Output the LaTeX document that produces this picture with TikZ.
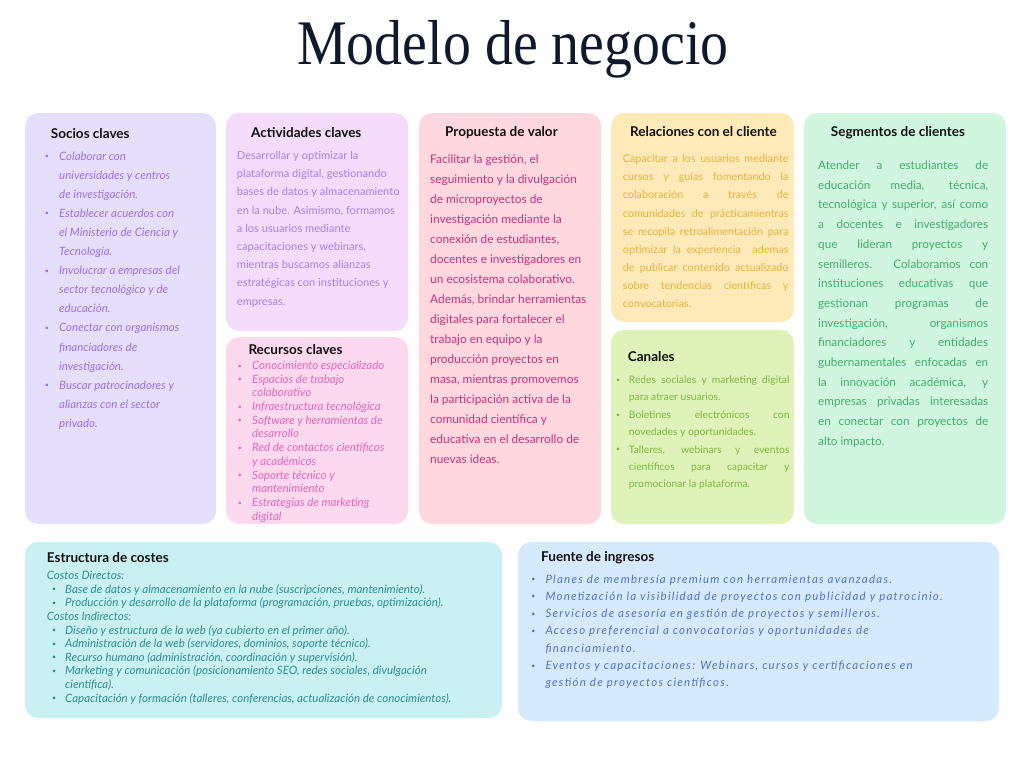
\documentclass[tikz,border=0pt]{standalone}
\usepackage{fontspec}
\usepackage{graphicx}
\setsansfont{Lato}
\newfontfamily\fuefont[LetterSpace=11]{Lato}
\newfontfamily\titlefont{Liberation Serif}
\definecolor{titleC}{HTML}{0E1A2B}
\definecolor{headC}{HTML}{111111}
\definecolor{socBg}{HTML}{E6DFFC}\definecolor{socT}{HTML}{9B70E6}
\definecolor{actBg}{HTML}{F3DCFC}\definecolor{actT}{HTML}{A582E8}
\definecolor{recBg}{HTML}{FDD9F0}\definecolor{recT}{HTML}{E066B8}
\definecolor{proBg}{HTML}{FED8DE}\definecolor{proT}{HTML}{C3327E}
\definecolor{relBg}{HTML}{FEEAB9}\definecolor{relT}{HTML}{E2B23B}
\definecolor{canBg}{HTML}{DEF2B9}\definecolor{canT}{HTML}{7CBB3A}
\definecolor{segBg}{HTML}{D1F6DF}\definecolor{segT}{HTML}{3FAE6B}
\definecolor{estBg}{HTML}{C9F0F3}\definecolor{estT}{HTML}{2F8F8E}
\definecolor{fueBg}{HTML}{D6EAFD}\definecolor{fueT}{HTML}{5470C8}
\newcommand\fr{\rule{0pt}{1em}}
\newcommand\bu[1]{\makebox[0pt][r]{\raisebox{0.12em}{\fontsize{7}{7}\selectfont •}\hspace{#1}}}
\newcommand\jl[2]{\makebox[#1][s]{#2}}
\tikzset{
  card/.style={rounded corners=13pt},
  hd/.style={anchor=base west, inner sep=0pt, text=headC,
    font=\sffamily\bfseries\fontsize{13.5}{15}\selectfont},
  blk/.style={anchor=north west, inner sep=0pt, align=left},
}
\begin{document}
\begin{tikzpicture}[x=1pt,y=-1pt]
\useasboundingbox (0,0) rectangle (1024,768);
\fill[white] (0,0) rectangle (1024,768);
% cards
\fill[card, socBg] (25,113) rectangle (216,524);
\fill[card, actBg] (226,113) rectangle (408,331);
\fill[card, recBg] (226,337) rectangle (408,524);
\fill[card, proBg] (419,113) rectangle (601,524);
\fill[card, relBg] (611,113) rectangle (794,322);
\fill[card, canBg] (611,330) rectangle (794,524);
\fill[card, segBg] (804,113) rectangle (1006,524);
\fill[card, estBg] (25,542) rectangle (502,718);
\fill[card, fueBg] (518,542) rectangle (999,721);
% title
\node[anchor=base, inner sep=0pt, text=titleC] (title) at (513,64)
  {\titlefont\fontsize{63.5}{64}\selectfont\scalebox{0.88}[1]{Modelo de negocio}};
% headings
\node[hd] (hsoc) at (50.7,138.5) {Socios claves};
\node[hd] (hact) at (251,137.8) {Actividades claves};
\node[hd] (hrec) at (248.3,354.8) {Recursos claves};
\node[hd] (hpro) at (445,136.8) {Propuesta de valor};
\node[hd] (hrel) at (630,136.8) {Relaciones con el cliente};
\node[hd] (hcan) at (627.7,361.5) {Canales};
\node[hd] (hseg) at (830.7,136.8) {Segmentos de clientes};
\node[hd] (hest) at (46.7,562.5) {Estructura de costes};
\node[hd] (hfue) at (541,561.5) {Fuente de ingresos};
% Socios
\node[blk, text=socT, font=\sffamily\itshape\fontsize{11.5}{19.1}\selectfont] (tsoc) at (59,148.3) {%
\fr\bu{10.2pt}Colaborar con\\
universidades y centros\\
de investigación.\\
\bu{10.2pt}Establecer acuerdos con\\
el Ministerio de Ciencia y\\
Tecnología.\\
\bu{10.2pt}Involucrar a empresas del\\
sector tecnológico y de\\
educación.\\
\bu{10.2pt}Conectar con organismos\\
financiadores de\\
investigación.\\
\bu{10.2pt}Buscar patrocinadores y\\
alianzas con el sector\\
privado.};
% Actividades
\node[blk, text=actT, font=\sffamily\fontsize{11.1}{18.2}\selectfont] (tact) at (236.7,148.2) {%
\fr Desarrollar y optimizar la\\
plataforma digital, gestionando\\
bases de datos y almacenamiento\\
en la nube. Asimismo, formamos\\
a los usuarios mediante\\
capacitaciones y webinars,\\
mientras buscamos alianzas\\
estratégicas con instituciones y\\
empresas.};
% Recursos
\node[blk, text=recT, font=\sffamily\itshape\fontsize{11.5}{13.7}\selectfont] (trec) at (252,357.7) {%
\fr\bu{10.2pt}Conocimiento especializado\\
\bu{10.2pt}Espacios de trabajo\\
colaborativo\\
\bu{10.2pt}Infraestructura tecnológica\\
\bu{10.2pt}Software y herramientas de\\
desarrollo\\
\bu{10.2pt}Red de contactos científicos\\
y académicos\\
\bu{10.2pt}Soporte técnico y\\
mantenimiento\\
\bu{10.2pt}Estrategias de marketing\\
digital};
% Propuesta
\node[blk, text=proT, font=\sffamily\fontsize{11.9}{20}\selectfont] (tpro) at (430,151.8) {%
\fr Facilitar la gestión, el\\
seguimiento y la divulgación\\
de microproyectos de\\
investigación mediante la\\
conexión de estudiantes,\\
docentes e investigadores en\\
un ecosistema colaborativo.\\
Además, brindar herramientas\\
digitales para fortalecer el\\
trabajo en equipo y la\\
producción proyectos en\\
masa, mientras promovemos\\
la participación activa de la\\
comunidad científica y\\
educativa en el desarrollo de\\
nuevas ideas.};
% Relaciones
\node[blk, text=relT, font=\sffamily\fontsize{10.8}{18.1}\selectfont] (trel) at (622.7,151.7) {%
\fr\jl{165.6pt}{Capacitar a los usuarios mediante}\\
\jl{165.6pt}{cursos y guías fomentando la}\\
\jl{165.6pt}{colaboración a través de}\\
\jl{165.6pt}{comunidades de prácticamientras}\\
\jl{165.6pt}{se recopila retroalimentación para}\\
\jl{165.6pt}{optimizar la experiencia \ ademas}\\
\jl{165.6pt}{de publicar contenido actualizado}\\
\jl{165.6pt}{sobre tendencias científicas y}\\
convocatorias.};
% Canales
\node[blk, text=canT, font=\sffamily\fontsize{10.3}{17.4}\selectfont] (tcan) at (628.7,373) {%
\fr\bu{8.8pt}\jl{160.6pt}{Redes sociales y marketing digital}\\
para atraer usuarios.\\
\bu{8.8pt}\jl{160.6pt}{Boletines electrónicos con}\\
novedades y oportunidades.\\
\bu{8.8pt}\jl{160.6pt}{Talleres, webinars y eventos}\\
\jl{160.6pt}{científicos para capacitar y}\\
promocionar la plataforma.};
% Segmentos
\node[blk, text=segT, font=\sffamily\fontsize{11.7}{19.7}\selectfont] (tseg) at (818,157.6) {%
\fr\jl{170pt}{Atender a estudiantes de}\\
\jl{170pt}{educación media, técnica,}\\
\jl{170pt}{tecnológica y superior, así como}\\
\jl{170pt}{a docentes e investigadores}\\
\jl{170pt}{que lideran proyectos y}\\
\jl{170pt}{semilleros. Colaboramos con}\\
\jl{170pt}{instituciones educativas que}\\
\jl{170pt}{gestionan programas de}\\
\jl{170pt}{investigación, organismos}\\
\jl{170pt}{financiadores y entidades}\\
\jl{170pt}{gubernamentales enfocadas en}\\
\jl{170pt}{la innovación académica, y}\\
\jl{170pt}{empresas privadas interesadas}\\
\jl{170pt}{en conectar con proyectos de}\\
alto impacto.};
% Estructura
\node[blk, text=estT, font=\sffamily\itshape\fontsize{11.5}{13.6}\selectfont] (test) at (46.7,568) {%
\fr Costos Directos:\\
\hspace*{18.3pt}\bu{9pt}Base de datos y almacenamiento en la nube (suscripciones, mantenimiento).\\
\hspace*{18.3pt}\bu{9pt}Producción y desarrollo de la plataforma (programación, pruebas, optimización).\\
Costos Indirectos:\\
\hspace*{18.3pt}\bu{9pt}Diseño y estructura de la web (ya cubierto en el primer año).\\
\hspace*{18.3pt}\bu{9pt}Administración de la web (servidores, dominios, soporte técnico).\\
\hspace*{18.3pt}\bu{9pt}Recurso humano (administración, coordinación y supervisión).\\
\hspace*{18.3pt}\bu{9pt}Marketing y comunicación (posicionamiento SEO, redes sociales, divulgación\\
\hspace*{18.3pt}científica).\\
\hspace*{18.3pt}\bu{9pt}Capacitación y formación (talleres, conferencias, actualización de conocimientos).};
% Fuente
\node[blk, text=fueT, font=\fuefont\itshape\fontsize{11.5}{17.3}\selectfont] (tfue) at (545.3,571.3) {%
\fr\bu{10pt}Planes de membresía premium con herramientas avanzadas.\\
\bu{10pt}Monetización la visibilidad de proyectos con publicidad y patrocinio.\\
\bu{10pt}Servicios de asesoría en gestión de proyectos y semilleros.\\
\bu{10pt}Acceso preferencial a convocatorias y oportunidades de\\
financiamiento.\\
\bu{10pt}Eventos y capacitaciones: Webinars, cursos y certificaciones en\\
gestión de proyectos científicos.};
\end{tikzpicture}
\end{document}
